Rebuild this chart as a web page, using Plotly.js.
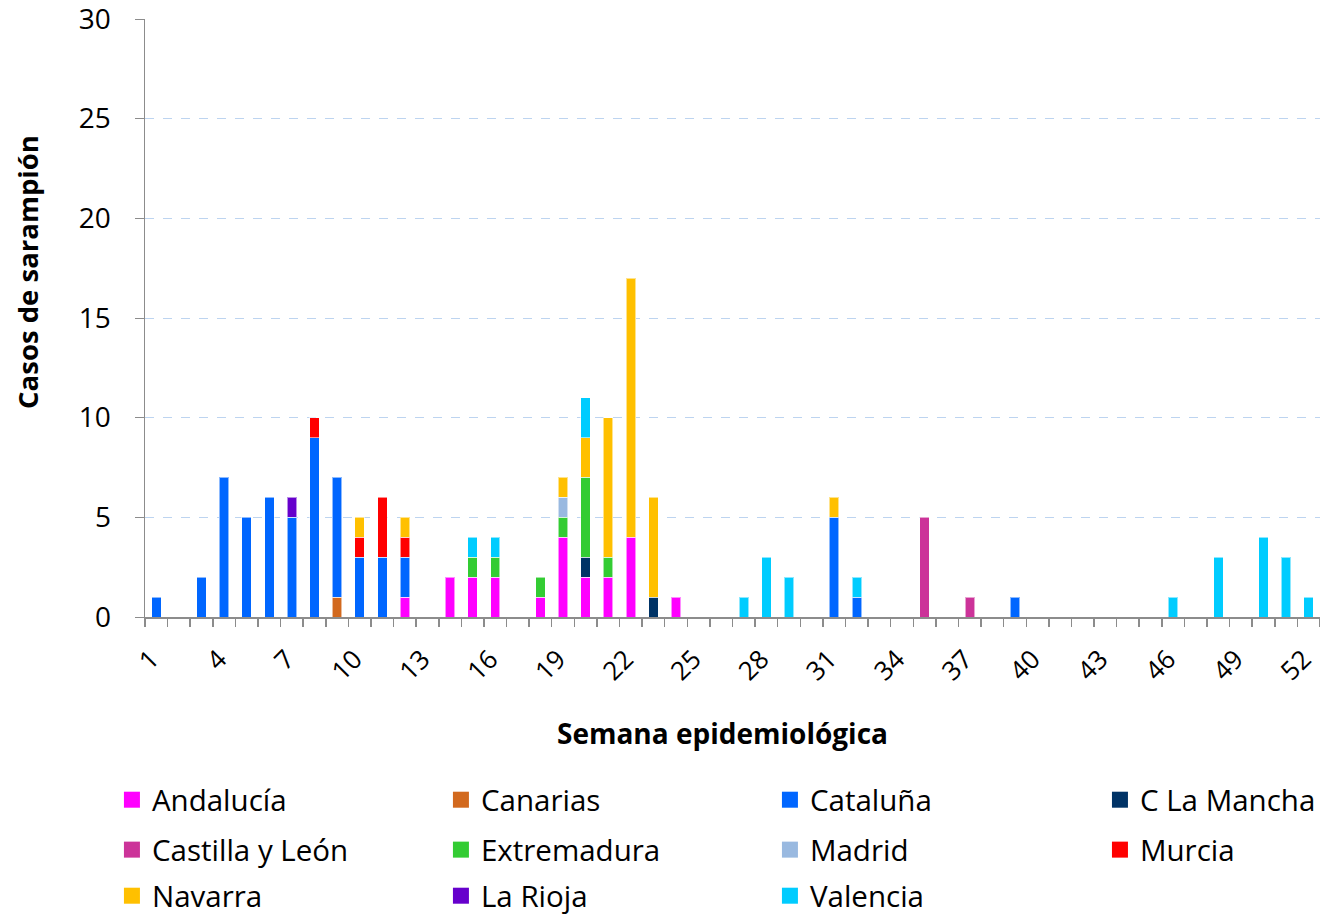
<!DOCTYPE html>
<html>
<head>
<meta charset="utf-8">
<script src="https://cdn.plot.ly/plotly-3.0.1.min.js"></script>
<style>
  html, body { margin: 0; padding: 0; background: #fff; }
  #chart { width: 1320px; height: 916px; }
</style>
</head>
<body>
<div id="chart"></div>
<script>
// Casos de sarampión por semana epidemiológica y comunidad autónoma
const andaluciaWeeks = [12, 14, 15, 16, 18, 19, 20, 21, 22, 24];
const andaluciaCases = [1, 2, 2, 2, 1, 4, 2, 2, 4, 1];

const canariasWeeks = [9];
const canariasCases = [1];

const catalunaWeeks = [1, 3, 4, 5, 6, 7, 8, 9, 10, 11, 12, 31, 32, 39];
const catalunaCases = [1, 2, 7, 5, 6, 5, 9, 6, 3, 3, 2, 5, 1, 1];

const cLaManchaWeeks = [20, 23];
const cLaManchaCases = [1, 1];

const castillaLeonWeeks = [35, 37];
const castillaLeonCases = [5, 1];

const extremaduraWeeks = [15, 16, 18, 19, 20, 21];
const extremaduraCases = [1, 1, 1, 1, 4, 1];

const madridWeeks = [19];
const madridCases = [1];

const murciaWeeks = [8, 10, 11, 12];
const murciaCases = [1, 1, 3, 1];

const navarraWeeks = [10, 12, 19, 20, 21, 22, 23, 31];
const navarraCases = [1, 1, 1, 2, 7, 13, 5, 1];

const laRiojaWeeks = [7];
const laRiojaCases = [1];

const valenciaWeeks = [15, 16, 20, 27, 28, 29, 32, 46, 48, 50, 51, 52];
const valenciaCases = [1, 1, 2, 1, 3, 2, 1, 1, 3, 4, 3, 1];

const weekTicks = [1, 4, 7, 10, 13, 16, 19, 22, 25, 28, 31, 34, 37, 40, 43, 46, 49, 52];

// stacking order (bottom to top) and legend placement (row legends)
const series = [
  { name: 'Andalucía',       x: andaluciaWeeks,    y: andaluciaCases,    color: '#FF00FF', legend: 'legend'  },
  { name: 'Canarias',        x: canariasWeeks,     y: canariasCases,     color: '#D2691E', legend: 'legend'  },
  { name: 'Cataluña',        x: catalunaWeeks,     y: catalunaCases,     color: '#0066FF', legend: 'legend'  },
  { name: 'C La Mancha',     x: cLaManchaWeeks,    y: cLaManchaCases,    color: '#003366', legend: 'legend4' },
  { name: 'Castilla y León', x: castillaLeonWeeks, y: castillaLeonCases, color: '#CC3399', legend: 'legend2' },
  { name: 'Extremadura',     x: extremaduraWeeks,  y: extremaduraCases,  color: '#33CC33', legend: 'legend2' },
  { name: 'Madrid',          x: madridWeeks,       y: madridCases,       color: '#99B9E0', legend: 'legend2' },
  { name: 'Murcia',          x: murciaWeeks,       y: murciaCases,       color: '#FF0000', legend: 'legend5' },
  { name: 'Navarra',         x: navarraWeeks,      y: navarraCases,      color: '#FFC000', legend: 'legend3' },
  { name: 'La Rioja',        x: laRiojaWeeks,      y: laRiojaCases,      color: '#6600CC', legend: 'legend3' },
  { name: 'Valencia',        x: valenciaWeeks,     y: valenciaCases,     color: '#00CCFF', legend: 'legend3' }
];

const barTraces = series.map(s => ({
  type: 'bar',
  name: s.name,
  x: s.x,
  y: s.y,
  showlegend: false,
  marker: { color: s.color, line: { color: 'rgba(255,255,255,0.55)', width: 1 } },
  hoverinfo: 'x+y+name'
}));

// legend entries with larger square swatches
const keyTraces = series.map(s => ({
  type: 'scatter',
  mode: 'markers',
  name: s.name,
  x: [null],
  y: [null],
  legend: s.legend,
  showlegend: true,
  marker: { symbol: 'square', size: 16, color: s.color }
}));

const FONT = 'Open Sans, DejaVu Sans, sans-serif';

function legendRow(xPos, yPos, itemWidth) {
  return {
    orientation: 'h',
    xref: 'container', yref: 'container',
    x: xPos, xanchor: 'left',
    y: yPos, yanchor: 'middle',
    entrywidth: itemWidth, entrywidthmode: 'pixels',
    font: { family: FONT, size: 29.5, color: '#000' },
    traceorder: 'normal',
    bgcolor: 'rgba(0,0,0,0)'
  };
}

const layout = {
  width: 1320,
  height: 916,
  margin: { l: 145, r: 0, t: 19, b: 299 },
  paper_bgcolor: '#fff',
  plot_bgcolor: '#fff',
  barmode: 'stack',
  bargap: 0.58,
  font: { family: FONT, color: '#000' },
  xaxis: {
    type: 'linear',
    range: [0.5, 52.5],
    tickvals: weekTicks,
    ticktext: weekTicks.map(String),
    tickangle: -45,
    ticks: '',
    ticklabelstandoff: 15,
    ticklabelshift: -5,
    ticklabeloverflow: 'allow',
    tickfont: { family: FONT, size: 26, color: '#000' },
    showgrid: false,
    zeroline: false,
    showline: true,
    linecolor: '#8C8C8C',
    linewidth: 1.5,
    automargin: false,
    minor: { ticks: 'outside', tick0: 0.5, dtick: 1, ticklen: 8, tickcolor: '#8C8C8C', tickwidth: 1.5, showgrid: false },
    fixedrange: true
  },
  yaxis: {
    range: [0, 30],
    dtick: 5,
    ticks: 'outside',
    ticklen: 9,
    tickcolor: '#8C8C8C',
    ticklabelstandoff: 18,
    ticklabeloverflow: 'allow',
    tickfont: { family: FONT, size: 28, color: '#000' },
    showgrid: true,
    gridcolor: '#BDD4F0',
    griddash: 'dash',
    gridwidth: 1,
    zeroline: false,
    showline: true,
    linecolor: '#8C8C8C',
    linewidth: 1.5,
    automargin: false,
    fixedrange: true
  },
  annotations: [
    {
      text: 'Casos de sarampión',
      xref: 'paper', yref: 'paper',
      x: -0.0996, y: 0.577,
      xanchor: 'center', yanchor: 'middle',
      textangle: -90,
      showarrow: false,
      font: { family: FONT, size: 27.5, color: '#000', weight: 'bold' }
    },
    {
      text: 'Semana epidemiológica',
      xref: 'paper', yref: 'paper',
      x: 0.4919, y: -0.194,
      xanchor: 'center', yanchor: 'middle',
      showarrow: false,
      font: { family: FONT, size: 28, color: '#000', weight: 'bold' }
    }
  ],
  legend:  legendRow(0.0848, 0.1266, 284),
  legend4: legendRow(0.8333, 0.1266, 180),
  legend2: legendRow(0.0848, 0.0721, 284),
  legend5: legendRow(0.8333, 0.0721, 180),
  legend3: legendRow(0.0848, 0.0218, 284),
  showlegend: true
};

Plotly.newPlot('chart', barTraces.concat(keyTraces), layout, { displayModeBar: false, staticPlot: true });
</script>
</body>
</html>
